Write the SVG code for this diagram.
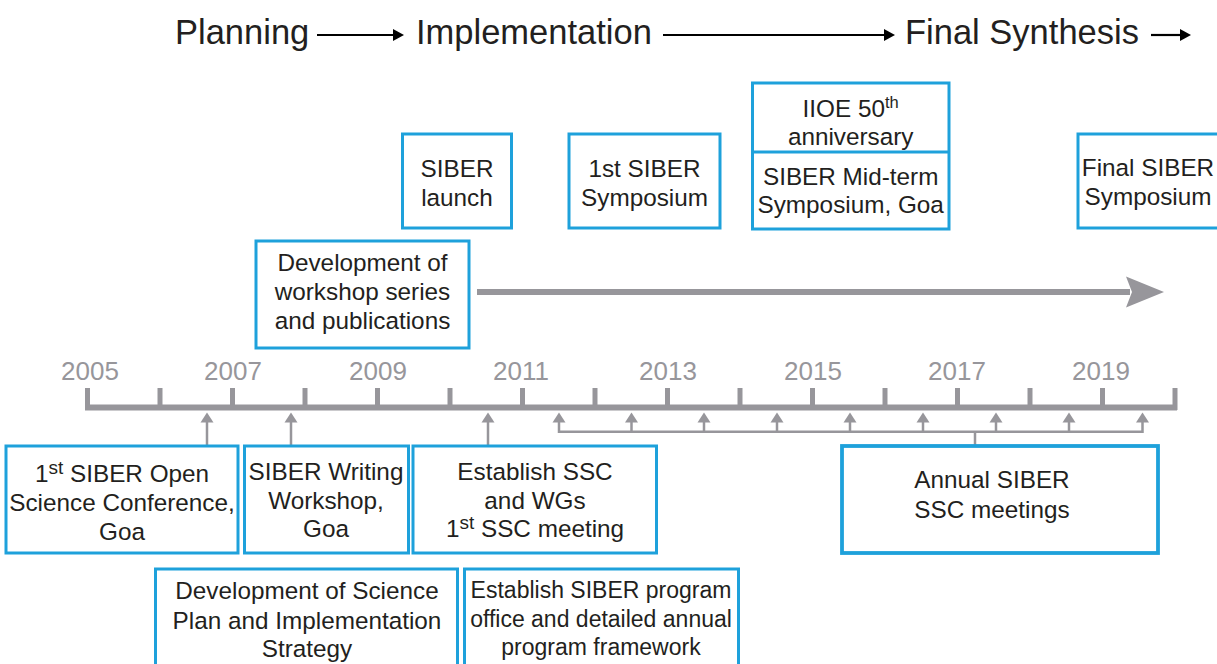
<svg xmlns="http://www.w3.org/2000/svg" width="1217" height="664" viewBox="0 0 1217 664">
  <style>
    .hdr { font-family: "Liberation Sans", Arial, sans-serif; font-size: 34.5px; fill: #231f20; }
    .yr { font-family: "Liberation Sans", Arial, sans-serif; font-size: 26px; fill: #97969b; text-anchor: middle; }
    .lbl { font-family: "Liberation Sans", Arial, sans-serif; font-size: 24.3px; fill: #231f20; text-anchor: middle; }
    .sm { font-size: 23px; }
    .box { fill: #ffffff; stroke: #1ea1db; stroke-width: 3; }
    .boxb { fill: #ffffff; stroke: #1ea1db; stroke-width: 3.8; }
    .gline { stroke: #97969b; fill: none; }
    .gfill { fill: #97969b; }
    .harrow { stroke: #000000; stroke-width: 2.2; fill: none; }
  </style>
  <defs>
    <path id="up" d="M0,0 L6.5,10 L-6.5,10 Z" fill="#97969b"/>
  </defs>
  <rect width="1217" height="664" fill="#ffffff"/>

  <g id="header">
    <text class="hdr" x="175" y="44">Planning</text>
    <text class="hdr" x="416" y="44">Implementation</text>
    <text class="hdr" x="905" y="44">Final Synthesis</text>
    <line class="harrow" x1="317" y1="35" x2="395" y2="35"/>
    <polygon points="393,29 404,35 393,41" fill="#000"/>
    <line class="harrow" x1="663" y1="35" x2="886" y2="35"/>
    <polygon points="884,29 895,35 884,41" fill="#000"/>
    <line class="harrow" x1="1151" y1="35" x2="1182" y2="35"/>
    <polygon points="1180,29 1191,35 1180,41" fill="#000"/>
  </g>

  <g id="years">
    <text class="yr" x="90" y="380">2005</text>
    <text class="yr" x="233" y="380">2007</text>
    <text class="yr" x="378" y="380">2009</text>
    <text class="yr" x="521" y="380">2011</text>
    <text class="yr" x="668" y="380">2013</text>
    <text class="yr" x="813" y="380">2015</text>
    <text class="yr" x="957" y="380">2017</text>
    <text class="yr" x="1101" y="380">2019</text>
  </g>

  <g id="connectors">
    <line class="gline" x1="85" y1="407.5" x2="1177" y2="407.5" stroke-width="6"/>
    <g class="gline" stroke-width="5">
      <line x1="87.5" y1="388" x2="87.5" y2="410"/>
      <line x1="160" y1="388" x2="160" y2="410"/>
      <line x1="232.5" y1="388" x2="232.5" y2="410"/>
      <line x1="305" y1="388" x2="305" y2="410"/>
      <line x1="377.5" y1="388" x2="377.5" y2="410"/>
      <line x1="450" y1="388" x2="450" y2="410"/>
      <line x1="522.5" y1="388" x2="522.5" y2="410"/>
      <line x1="595" y1="388" x2="595" y2="410"/>
      <line x1="667.5" y1="388" x2="667.5" y2="410"/>
      <line x1="740" y1="388" x2="740" y2="410"/>
      <line x1="812.5" y1="388" x2="812.5" y2="410"/>
      <line x1="885" y1="388" x2="885" y2="410"/>
      <line x1="957.5" y1="388" x2="957.5" y2="410"/>
      <line x1="1030" y1="388" x2="1030" y2="410"/>
      <line x1="1102.5" y1="388" x2="1102.5" y2="410"/>
      <line x1="1175" y1="388" x2="1175" y2="410"/>
    </g>
    <g class="gline" stroke-width="2.5">
      <line x1="207" y1="421" x2="207" y2="446"/>
      <line x1="291" y1="421" x2="291" y2="446"/>
      <line x1="488" y1="421" x2="488" y2="446"/>
      <path d="M559,421 V431.7 H1142.5 V421"/>
      <line x1="631.5" y1="421" x2="631.5" y2="431.7"/>
      <line x1="704" y1="421" x2="704" y2="431.7"/>
      <line x1="777" y1="421" x2="777" y2="431.7"/>
      <line x1="850" y1="421" x2="850" y2="431.7"/>
      <line x1="923" y1="421" x2="923" y2="431.7"/>
      <line x1="996" y1="421" x2="996" y2="431.7"/>
      <line x1="1069" y1="421" x2="1069" y2="431.7"/>
      <line x1="975" y1="431.7" x2="975" y2="446"/>
    </g>
    <use href="#up" x="207" y="412.5"/>
    <use href="#up" x="291" y="412.5"/>
    <use href="#up" x="488" y="412.5"/>
    <use href="#up" x="559" y="412.5"/>
    <use href="#up" x="631.5" y="412.5"/>
    <use href="#up" x="704" y="412.5"/>
    <use href="#up" x="777" y="412.5"/>
    <use href="#up" x="850" y="412.5"/>
    <use href="#up" x="923" y="412.5"/>
    <use href="#up" x="996" y="412.5"/>
    <use href="#up" x="1069" y="412.5"/>
    <use href="#up" x="1142.5" y="412.5"/>
    <line class="gline" x1="477" y1="292" x2="1130" y2="292" stroke-width="6"/>
    <polygon class="gfill" points="1126,276.5 1164,292 1126,307.5 1132,292"/>
  </g>

  <g id="siber-launch">
    <rect class="box" x="402.5" y="134" width="109" height="94"/>
    <text class="lbl" x="457" y="177">SIBER</text>
    <text class="lbl" x="457" y="206">launch</text>
  </g>

  <g id="first-symposium">
    <rect class="box" x="569" y="134" width="151" height="94"/>
    <text class="lbl" x="644.5" y="177">1st SIBER</text>
    <text class="lbl" x="644.5" y="206">Symposium</text>
  </g>

  <g id="iioe-midterm">
    <rect class="box" x="752.5" y="83" width="196.5" height="146"/>
    <line x1="752.5" y1="152" x2="949" y2="152" stroke="#1ea1db" stroke-width="3"/>
    <text class="lbl" x="850.7" y="116.5">IIOE 50<tspan font-size="16.5" dy="-9">th</tspan></text>
    <text class="lbl" x="850.7" y="145">anniversary</text>
    <text class="lbl" x="850.7" y="185">SIBER Mid-term</text>
    <text class="lbl" x="850.7" y="213">Symposium, Goa</text>
  </g>

  <g id="final-symposium">
    <rect class="box" x="1078" y="134" width="145" height="94"/>
    <text class="lbl" x="1148" y="176">Final SIBER</text>
    <text class="lbl" x="1148" y="205">Symposium</text>
  </g>

  <g id="workshop-series">
    <rect class="box" x="256" y="241" width="213" height="107"/>
    <text class="lbl" x="362.5" y="271">Development of</text>
    <text class="lbl" x="362.5" y="300">workshop series</text>
    <text class="lbl" x="362.5" y="329">and publications</text>
  </g>

  <g id="open-science-conf">
    <rect class="box" x="6" y="446" width="232" height="107"/>
    <text class="lbl" x="122" y="482">1<tspan font-size="19" dy="-8">st</tspan><tspan dy="8"> SIBER Open</tspan></text>
    <text class="lbl" x="122" y="511">Science Conference,</text>
    <text class="lbl" x="122" y="540">Goa</text>
  </g>

  <g id="writing-workshop">
    <rect class="box" x="244.5" y="446" width="164" height="107"/>
    <text class="lbl" x="326" y="480">SIBER Writing</text>
    <text class="lbl" x="326" y="508.5">Workshop,</text>
    <text class="lbl" x="326" y="537">Goa</text>
  </g>

  <g id="establish-ssc">
    <rect class="box" x="413" y="446" width="243.5" height="107"/>
    <text class="lbl" x="535" y="480">Establish SSC</text>
    <text class="lbl" x="535" y="508.5">and WGs</text>
    <text class="lbl" x="535" y="537">1<tspan font-size="19" dy="-8">st</tspan><tspan dy="8"> SSC meeting</tspan></text>
  </g>

  <g id="annual-ssc">
    <rect class="boxb" x="842" y="446" width="316" height="107"/>
    <text class="lbl" x="992" y="488">Annual SIBER</text>
    <text class="lbl" x="992" y="518">SSC meetings</text>
  </g>

  <g id="science-plan">
    <rect class="box" x="155.5" y="569" width="302" height="110"/>
    <text class="lbl" x="307" y="599">Development of Science</text>
    <text class="lbl" x="307" y="628.5">Plan and Implementation</text>
    <text class="lbl" x="307" y="657">Strategy</text>
  </g>

  <g id="program-office">
    <rect class="box" x="464.5" y="569" width="274" height="110"/>
    <text class="lbl sm" x="601" y="598">Establish SIBER program</text>
    <text class="lbl sm" x="601" y="627">office and detailed annual</text>
    <text class="lbl sm" x="601" y="655">program framework</text>
  </g>
</svg>
